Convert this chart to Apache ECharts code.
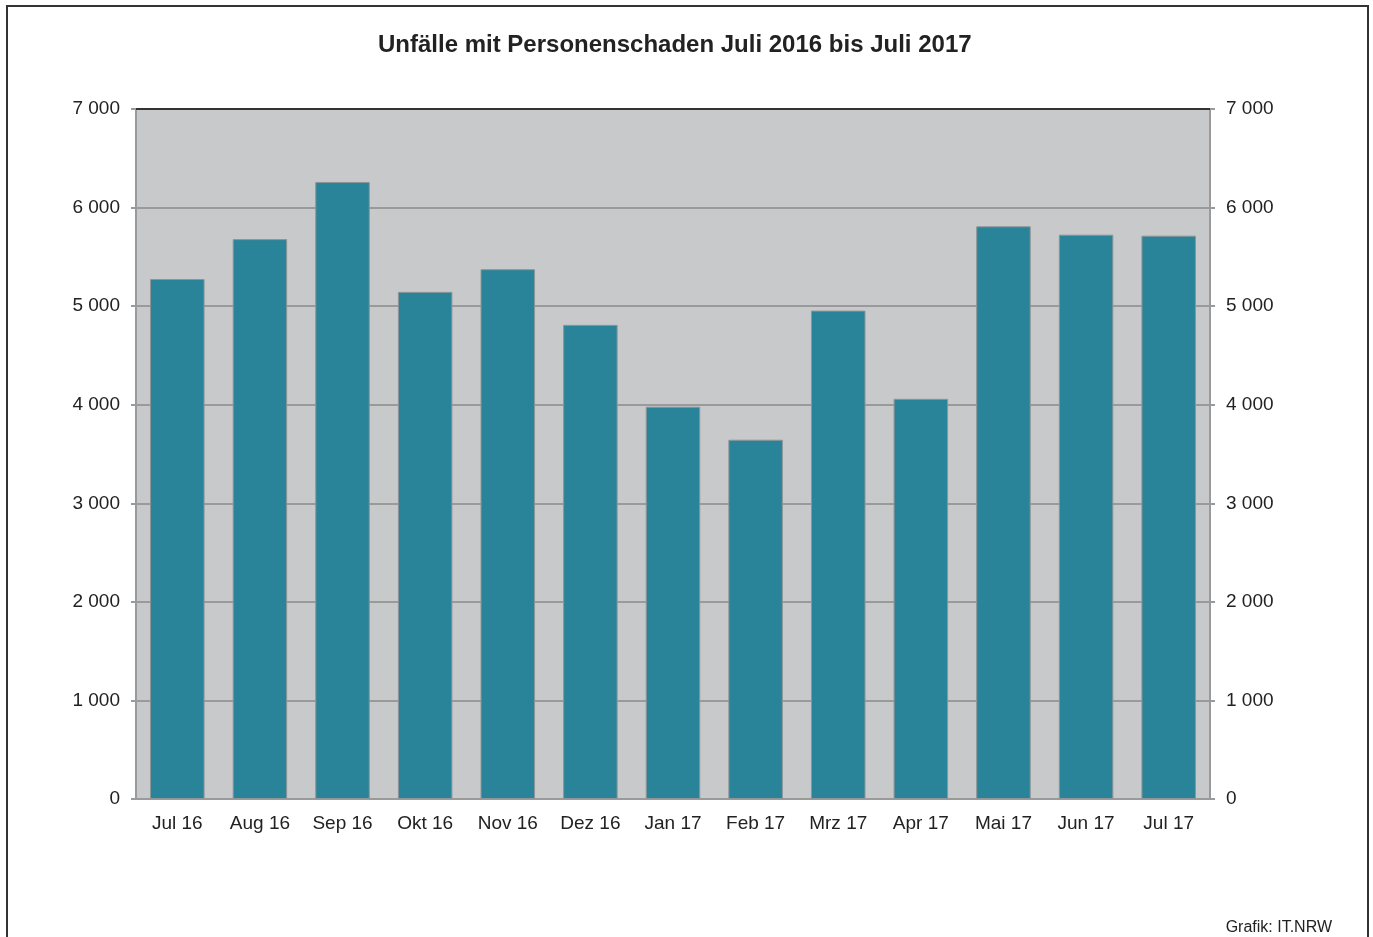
<!DOCTYPE html>
<html><head><meta charset="utf-8">
<script src="https://cdn.jsdelivr.net/npm/echarts@6/dist/echarts.min.js"></script>
<style>html,body{margin:0;padding:0;background:#fff}#c{width:1373px;height:937px}</style>
</head><body><div id="c"></div>
<script>
const categories = ['Jul 16','Aug 16','Sep 16','Okt 16','Nov 16','Dez 16','Jan 17','Feb 17','Mrz 17','Apr 17','Mai 17','Jun 17','Jul 17'];
const values = [5275, 5680, 6260, 5145, 5375, 4810, 3980, 3645, 4955, 4060, 5810, 5725, 5715];
const titleText = 'Unfälle mit Personenschaden Juli 2016 bis Juli 2017';
const sourceText = 'Grafik: IT.NRW';

const fmt = v => { const s = String(v); return s.length > 3 ? s.slice(0, -3) + ' ' + s.slice(-3) : s; };
const font = '"Liberation Sans", Arial, sans-serif';
const chart = echarts.init(document.getElementById('c'), null, {renderer: 'canvas'});
const yCommon = {
  type: 'value', min: 0, max: 7000, interval: 1000,
  axisLine: {show: true, lineStyle: {color: '#9a9a9a', width: 2}},
  axisTick: {show: true, length: 5, lineStyle: {color: '#9a9a9a', width: 2}},
  axisLabel: {color: '#222', fontSize: 19, fontFamily: font, formatter: fmt, margin: 16, padding: [2, 0, 0, 0]}
};
chart.setOption({
  animation: false,
  backgroundColor: '#fff',
  title: {text: titleText, left: 373, top: 28,
    textStyle: {fontSize: 24, fontWeight: 'bold', color: '#222', fontFamily: font}},
  grid: {left: 136, right: 163, top: 109, bottom: 138, show: true, backgroundColor: '#c8c9cb', borderWidth: 0},
  xAxis: [{
    type: 'category', data: categories,
    axisLine: {show: true, onZero: false, lineStyle: {color: '#9a9a9a', width: 2}},
    axisTick: {show: false},
    axisLabel: {color: '#222', fontSize: 19, fontFamily: font, margin: 15}
  }, {
    type: 'category', data: categories, position: 'top',
    axisLine: {show: true, onZero: false, lineStyle: {color: '#333', width: 2}},
    axisTick: {show: false}, axisLabel: {show: false}
  }],
  yAxis: [
    Object.assign({}, yCommon, {position: 'left',
      splitLine: {show: true, lineStyle: {color: '#9a9a9a', width: 2}}}),
    Object.assign({}, yCommon, {position: 'right', splitLine: {show: false}})
  ],
  series: [{
    type: 'bar', data: values, barWidth: '66%', xAxisIndex: 0, yAxisIndex: 0,
    itemStyle: {color: '#2a8499', borderColor: '#8f9598', borderWidth: 1}
  }],
  graphic: [
    {type: 'rect', shape: {x: 7, y: 6, width: 1361, height: 960},
      style: {fill: null, stroke: '#333', lineWidth: 2}, silent: true},
    {type: 'text', right: 41, top: 920,
      style: {text: sourceText, fill: '#222', fontSize: 16, fontFamily: font}}
  ]
});
</script></body></html>
